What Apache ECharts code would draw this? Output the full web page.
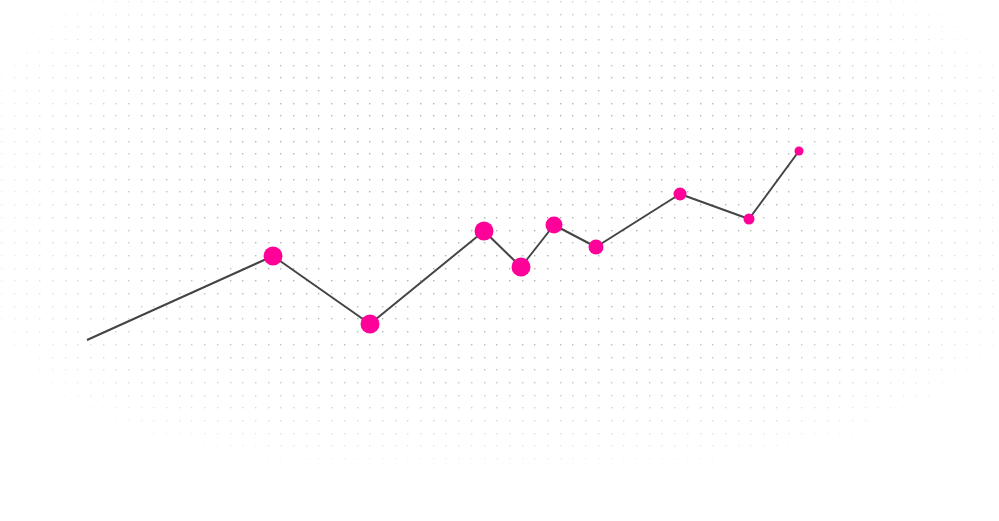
<!DOCTYPE html>
<html>
<head>
<meta charset="utf-8">
<script src="https://cdn.jsdelivr.net/npm/echarts@6/dist/echarts.min.js"></script>
<style>
html,body{margin:0;padding:0;background:#fff;}
#main{width:999px;height:521px;}
</style>
</head>
<body>
<div id="main"></div>
<script>
// Data
var xValues = [0, 186, 283, 397, 434, 467, 509, 593, 662, 712];
var yValues = [0, 84, 16, 109, 73, 115, 93, 146, 121, 189];
var pointWeight = [0, 19, 19, 19, 19, 17, 15, 13, 11, 9];

var W = 999, H = 521;

// decorative dotted background, faded toward the edges
function makeDots() {
  var c = document.createElement('canvas');
  c.width = W; c.height = H;
  var ctx = c.getContext('2d');
  var step = 12.7, cx = 500, cy = 190, a = 540, bTop = 250, bBot = 285;
  for (var y = 1; y < H; y += step) {
    for (var x = 1; x < W; x += step) {
      var dx = Math.abs(x - cx) / a;
      var dy = Math.abs(y - cy) / (y < cy ? bTop : bBot);
      var s = Math.pow(dx, 3) + Math.pow(dy, 3);
      var al = 1 - s;
      if (al <= 0) continue;
      al = Math.pow(al, 0.9);
      ctx.fillStyle = 'rgba(150,150,150,' + (0.75 * al).toFixed(3) + ')';
      ctx.fillRect(Math.round(x), Math.round(y), 1.4, 1.4);
    }
  }
  return c;
}

var seriesData = xValues.map(function (x, i) {
  return [x, yValues[i], pointWeight[i]];
});

var chart = echarts.init(document.getElementById('main'), null, {renderer: 'canvas'});
chart.setOption({
  backgroundColor: '#fff',
  animation: false,
  graphic: [{
    type: 'image',
    left: 0, top: 0, z: -10, silent: true,
    style: {image: makeDots(), width: W, height: H}
  }],
  grid: {left: 87, right: 200, top: 151, bottom: 181},
  xAxis: {type: 'value', min: 0, max: 712, show: false},
  yAxis: {type: 'value', min: 0, max: 189, show: false},
  series: [{
    type: 'line',
    data: seriesData,
    clip: false,
    symbol: 'circle',
    showAllSymbol: true,
    symbolSize: function (v) { return v[2]; },
    lineStyle: {color: '#444', width: 2},
    itemStyle: {color: '#ff0099', borderWidth: 0},
    emphasis: {disabled: true}
  }]
});
</script>
</body>
</html>
